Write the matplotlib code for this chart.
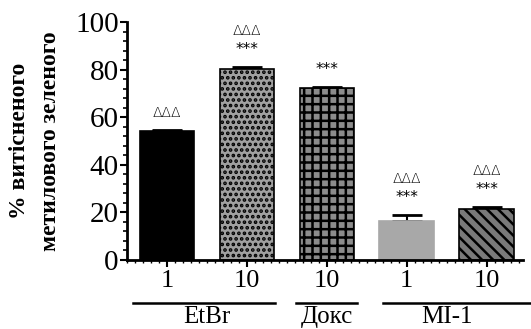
import numpy as np
import matplotlib.pyplot as plt
from matplotlib.ticker import MultipleLocator

plt.rcParams['font.family'] = ['Liberation Serif', 'DejaVu Serif']
plt.rcParams['hatch.linewidth'] = 1.8

tick_labels = ['1', '10', '10', '1', '10']
values = [54.2, 80.3, 72.3, 16.4, 21.4]
errors = [0.6, 0.9, 0.5, 2.6, 0.9]
stars = ['', '***', '***', '***', '***']
deltas = ['ΔΔΔ', 'ΔΔΔ', '', 'ΔΔΔ', 'ΔΔΔ']
groups = ['EtBr', 'Докс', 'MI-1']
group_centers = [0.5, 2, 3.5]

faces = ['black', '#a0a0a0', '#8c8c8c', '#a8a8a8', '#7a7a7a']
hatches = [None, '...', '++', None, '\\\\\\']
edges = ['black', 'black', 'black', '#a8a8a8', 'black']
# extents of the lines under the group names
line_spans = [(-0.42, 1.35), (1.61, 2.38), (2.7, 4.6)]

fig = plt.figure(figsize=(5.31, 3.29), dpi=100)
ax = fig.add_axes([0.239, 0.21, 0.745, 0.723])

x = np.arange(len(values))
for i in range(len(values)):
    ax.bar(x[i], values[i], width=0.68, color=faces[i], edgecolor=edges[i],
           hatch=hatches[i], linewidth=1.2, zorder=2)
    ax.errorbar(x[i], values[i], yerr=[[0], [errors[i]]], fmt='none',
                ecolor='black', elinewidth=1.5, capsize=11, capthick=2, zorder=1)
    top = values[i] + errors[i]
    if stars[i]:
        ax.text(x[i], top + 4, stars[i], ha='center', va='bottom', fontsize=11,
                family=['DejaVu Sans'])
    if deltas[i]:
        off = 4 if not stars[i] else 12
        ax.text(x[i], top + off, deltas[i], ha='center', va='bottom', fontsize=10,
                family=['DejaVu Sans'], fontweight='light')

ax.set_ylim(0, 100)
ax.set_xlim(-0.5, 4.45)
ax.set_xticks(x)
ax.set_xticklabels(tick_labels, fontsize=19)
ax.yaxis.set_major_locator(MultipleLocator(20))
ax.yaxis.set_minor_locator(MultipleLocator(4))
ax.xaxis.set_minor_locator(MultipleLocator(0.1))
ax.tick_params(axis='y', labelsize=21, width=1.5, length=5, pad=1)
ax.tick_params(axis='y', which='minor', width=1.2, length=3)
ax.tick_params(axis='x', width=1.5, length=5, pad=2)
ax.tick_params(axis='x', which='minor', width=1, length=2)
for s in ['top', 'right']:
    ax.spines[s].set_visible(False)
for s in ['left', 'bottom']:
    ax.spines[s].set_linewidth(2)

ax.set_ylabel('% витісненого\nметилового зеленого', fontsize=17, fontweight='bold',
              labelpad=10, linespacing=1.6)

# group lines and labels under the tick labels
for name, xc, (x0, x1) in zip(groups, group_centers, line_spans):
    ax.plot([x0, x1], [-18, -18], color='black', lw=1.8, clip_on=False)
    ax.text(xc, -19.5, name, ha='center', va='top', fontsize=18)

fig.savefig('out.png', dpi=100)
